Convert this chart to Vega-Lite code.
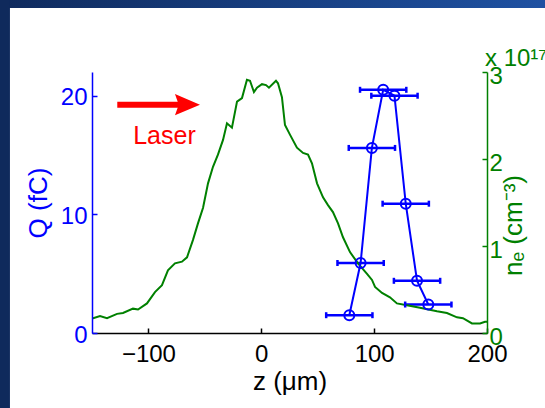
{
  "$schema": "https://vega.github.io/schema/vega-lite/v6.json",
  "width": 395,
  "height": 261,
  "autosize": {"type": "none"},
  "padding": {"left": 92, "top": 72, "right": 58, "bottom": 75},
  "background": "white",
  "config": {
    "view": {"stroke": null},
    "axis": {
      "grid": false,
      "labelFont": "Liberation Sans",
      "titleFont": "Liberation Sans",
      "labelFontSize": 24,
      "titleFontSize": 26,
      "titleFontWeight": "normal",
      "tickSize": -5,
      "tickWidth": 1.5,
      "domainWidth": 1.5,
      "labelFlush": false
    },
    "text": {"font": "Liberation Sans"}
  },
  "datasets": {
    "ne": [
      {"z": -150, "ne": 0.17}, {"z": -149, "ne": 0.17}, {"z": -142.9, "ne": 0.195}, {"z": -136.7, "ne": 0.17},
      {"z": -127.8, "ne": 0.22}, {"z": -122.5, "ne": 0.23}, {"z": -113.7, "ne": 0.28}, {"z": -109.2, "ne": 0.27},
      {"z": -101.3, "ne": 0.34}, {"z": -94.2, "ne": 0.47}, {"z": -88, "ne": 0.55}, {"z": -82.7, "ne": 0.72},
      {"z": -76.5, "ne": 0.8}, {"z": -70.3, "ne": 0.82}, {"z": -65.8, "ne": 0.87}, {"z": -60.5, "ne": 1.07},
      {"z": -56.1, "ne": 1.26}, {"z": -51.6, "ne": 1.44}, {"z": -47.2, "ne": 1.72}, {"z": -42.8, "ne": 1.91},
      {"z": -38.4, "ne": 2.05}, {"z": -33.9, "ne": 2.22}, {"z": -30.4, "ne": 2.41}, {"z": -26, "ne": 2.36},
      {"z": -21.5, "ne": 2.66}, {"z": -17.1, "ne": 2.7}, {"z": -12.7, "ne": 2.91}, {"z": -10, "ne": 2.9},
      {"z": -6.5, "ne": 2.77}, {"z": -3.8, "ne": 2.82}, {"z": 0.6, "ne": 2.86}, {"z": 4.2, "ne": 2.85},
      {"z": 6.8, "ne": 2.82}, {"z": 13, "ne": 2.9}, {"z": 14.8, "ne": 2.87}, {"z": 18.3, "ne": 2.71},
      {"z": 21, "ne": 2.39}, {"z": 25.4, "ne": 2.28}, {"z": 31.6, "ne": 2.13}, {"z": 37, "ne": 2.07},
      {"z": 41.4, "ne": 2.05}, {"z": 44.9, "ne": 1.95}, {"z": 49.4, "ne": 1.72}, {"z": 54.7, "ne": 1.56},
      {"z": 59.1, "ne": 1.47}, {"z": 63.5, "ne": 1.39}, {"z": 68, "ne": 1.26}, {"z": 72.4, "ne": 1.1},
      {"z": 78.6, "ne": 0.93}, {"z": 85.7, "ne": 0.8}, {"z": 93.7, "ne": 0.68}, {"z": 98.1, "ne": 0.61},
      {"z": 100.8, "ne": 0.53}, {"z": 107, "ne": 0.46}, {"z": 114, "ne": 0.41}, {"z": 120.2, "ne": 0.34},
      {"z": 129.1, "ne": 0.32}, {"z": 140.6, "ne": 0.29}, {"z": 155.7, "ne": 0.25}, {"z": 164.5, "ne": 0.23},
      {"z": 173.4, "ne": 0.18}, {"z": 178.7, "ne": 0.17}, {"z": 186.7, "ne": 0.11}, {"z": 193.8, "ne": 0.11},
      {"z": 198.2, "ne": 0.13}, {"z": 200, "ne": 0.13}
    ],
    "q": [
      {"z": 78, "q": 1.5, "lo": 57.5, "hi": 98.5},
      {"z": 88, "q": 5.9, "lo": 67.5, "hi": 108.5},
      {"z": 98, "q": 15.6, "lo": 77.5, "hi": 118.5},
      {"z": 108, "q": 20.5, "lo": 87.5, "hi": 128.5},
      {"z": 118, "q": 20.0, "lo": 97.5, "hi": 138.5},
      {"z": 128, "q": 10.9, "lo": 107.5, "hi": 148.5},
      {"z": 138, "q": 4.4, "lo": 117.5, "hi": 158.5},
      {"z": 148, "q": 2.4, "lo": 127.5, "hi": 168.5}
    ],
    "one": [{}]
  },
  "layer": [
    {
      "data": {"name": "q"},
      "mark": {"type": "rule", "color": "#0000ff", "strokeWidth": 2.5},
      "encoding": {
        "x": {"field": "lo", "type": "quantitative", "scale": {"domain": [-150, 200], "nice": false, "zero": false},
          "axis": {"zindex": 2, "orient": "bottom", "values": [-100, 0, 100, 200], "title": "z (μm)", "domainColor": "black", "tickColor": "black", "labelColor": "black", "titleColor": "black", "labelPadding": 14, "titlePadding": 2, "labelFlush": false}},
        "x2": {"field": "hi"},
        "y": {"field": "q", "type": "quantitative", "scale": {"domain": [0, 22], "nice": false},
          "axis": {"zindex": 2, "orient": "left", "values": [0, 10, 20], "title": "Q (fC)", "domainColor": "#0000ff", "tickColor": "#0000ff", "labelColor": "#0000ff", "titleColor": "#0000ff", "labelPadding": 10, "titlePadding": 9, "labelOffset": 2}}
      }
    },
    {
      "data": {"name": "one"},
      "mark": {"type": "rect", "clip": false, "color": {"gradient": "linear", "x1": 0, "y1": 0, "x2": 1, "y2": 0, "stops": [{"offset": 0, "color": "#0f2a5c"}, {"offset": 1, "color": "#1f52a3"}]}},
      "encoding": {
        "x": {"datum": -240, "type": "quantitative", "scale": {"domain": [-150, 200], "nice": false, "zero": false}},
        "x2": {"datum": 260},
        "y": {"datum": 27.4, "type": "quantitative", "scale": {"domain": [0, 22], "nice": false}, "axis": null},
        "y2": {"datum": 30}
      }
    },
    {
      "data": {"name": "one"},
      "mark": {"type": "rect", "clip": false, "color": "#0f2a5c"},
      "encoding": {
        "x": {"datum": -240, "type": "quantitative", "scale": {"domain": [-150, 200], "nice": false, "zero": false}},
        "x2": {"datum": -222.7},
        "y": {"datum": -8, "type": "quantitative", "scale": {"domain": [0, 22], "nice": false}, "axis": null},
        "y2": {"datum": 30}
      }
    },
    {
      "data": {"name": "ne"},
      "mark": {"type": "line", "color": "#008000", "strokeWidth": 2},
      "encoding": {
        "x": {"field": "z", "type": "quantitative", "scale": {"domain": [-150, 200], "nice": false, "zero": false}},
        "y": {
          "field": "ne", "type": "quantitative",
          "scale": {"domain": [0, 3], "nice": false},
          "axis": {
            "zindex": 2,
            "orient": "right", "values": [0, 1, 2, 3], "format": "d",
            "title": "nₑ (cm⁻³)", "titleAngle": 270, "titleBaseline": "top", "titleY": 153,
            "domainColor": "#008000", "tickColor": "#008000", "labelColor": "#008000", "titleColor": "#008000",
            "labelPadding": 7, "titlePadding": -2, "labelOffset": 4
          }
        }
      }
    },
    {
      "data": {"name": "q"},
      "mark": {"type": "tick", "orient": "vertical", "color": "#0000ff", "size": 6, "thickness": 2.5, "opacity": 1},
      "encoding": {
        "x": {"field": "lo", "type": "quantitative", "scale": {"domain": [-150, 200], "nice": false, "zero": false}},
        "y": {"field": "q", "type": "quantitative", "scale": {"domain": [0, 22], "nice": false}, "axis": null}
      }
    },
    {
      "data": {"name": "q"},
      "mark": {"type": "tick", "orient": "vertical", "color": "#0000ff", "size": 6, "thickness": 2.5, "opacity": 1},
      "encoding": {
        "x": {"field": "hi", "type": "quantitative", "scale": {"domain": [-150, 200], "nice": false, "zero": false}},
        "y": {"field": "q", "type": "quantitative", "scale": {"domain": [0, 22], "nice": false}, "axis": null}
      }
    },
    {
      "data": {"name": "q"},
      "mark": {"type": "line", "color": "#0000ff", "strokeWidth": 2},
      "encoding": {
        "x": {"field": "z", "type": "quantitative", "scale": {"domain": [-150, 200], "nice": false, "zero": false}},
        "y": {"field": "q", "type": "quantitative", "scale": {"domain": [0, 22], "nice": false}, "axis": null}
      }
    },
    {
      "data": {"name": "q"},
      "mark": {"type": "point", "shape": "circle", "filled": false, "size": 100, "strokeWidth": 2, "color": "#0000ff", "opacity": 1},
      "encoding": {
        "x": {"field": "z", "type": "quantitative", "scale": {"domain": [-150, 200], "nice": false, "zero": false}},
        "y": {"field": "q", "type": "quantitative", "scale": {"domain": [0, 22], "nice": false}, "axis": null}
      }
    },
    {
      "data": {"name": "one"},
      "mark": {"type": "rule", "color": "#ff0000", "strokeWidth": 6, "strokeCap": "butt"},
      "encoding": {
        "x": {"datum": -127.6, "type": "quantitative", "scale": {"domain": [-150, 200], "nice": false, "zero": false}},
        "x2": {"datum": -70},
        "y": {"datum": 19.24, "type": "quantitative", "scale": {"domain": [0, 22], "nice": false}, "axis": null}
      }
    },
    {
      "data": {"name": "one"},
      "mark": {"type": "point", "shape": "M-1,-0.85L1,0L-1,0.85L-0.7,0Z", "filled": true, "size": 625, "color": "#ff0000", "opacity": 1, "strokeWidth": 0},
      "encoding": {
        "x": {"datum": -65.4, "type": "quantitative", "scale": {"domain": [-150, 200], "nice": false, "zero": false}},
        "y": {"datum": 19.24, "type": "quantitative", "scale": {"domain": [0, 22], "nice": false}, "axis": null}
      }
    },
    {
      "data": {"name": "one"},
      "mark": {"type": "text", "text": "Laser", "color": "#ff0000", "fontSize": 25, "align": "center", "baseline": "alphabetic"},
      "encoding": {
        "x": {"datum": -85.8, "type": "quantitative", "scale": {"domain": [-150, 200], "nice": false, "zero": false}},
        "y": {"datum": 15.97, "type": "quantitative", "scale": {"domain": [0, 22], "nice": false}, "axis": null}
      }
    },
    {
      "data": {"name": "one"},
      "mark": {"type": "text", "text": "x 10¹⁷", "color": "#008000", "fontSize": 24, "align": "left", "baseline": "alphabetic", "clip": false},
      "encoding": {
        "x": {"datum": 198.2, "type": "quantitative", "scale": {"domain": [-150, 200], "nice": false, "zero": false}},
        "y": {"datum": 22.5, "type": "quantitative", "scale": {"domain": [0, 22], "nice": false}, "axis": null}
      }
    }
  ],
  "resolve": {"scale": {"y": "independent"}}
}
